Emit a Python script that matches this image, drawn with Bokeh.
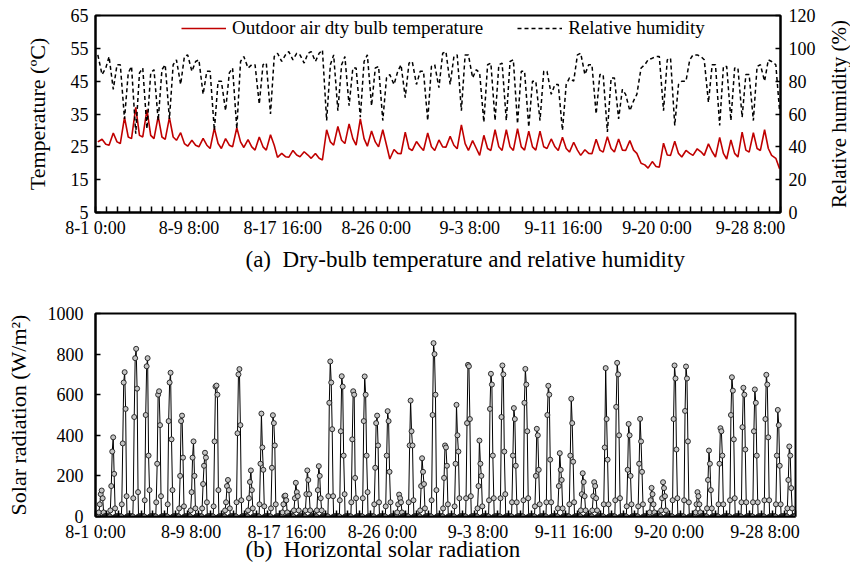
import math
from bokeh.plotting import figure
from bokeh.models import Range1d, LinearAxis, FixedTicker, Legend, LegendItem, Title
from bokeh.core.properties import value
from bokeh.layouts import row
from bokeh.embed import file_html
from bokeh.resources import INLINE

FONT = "Liberation Serif"

# ---------------- data ----------------
N_DAYS = 61
TICK_HOURS = [0, 200, 400, 600, 800, 1000, 1200, 1400]
TICK_LABELS = ["8-1 0:00", "8-9 8:00", "8-17 16:00", "8-26 0:00",
               "9-3 8:00", "9-11 16:00", "9-20 0:00", "9-28 8:00"]

# readings per day (hour of day) for temperature / RH
READ_HOURS = [5, 14, 22]
TEMP_05 = [26.5, 25.5, 26.0, 27.5, 28.0, 27.5, 27.3, 27.0, 25.2, 25.0,
           24.5, 24.5, 25.0, 24.8, 24.0, 24.0, 21.8, 21.8, 22.0, 21.5,
           21.0, 25.5, 26.0, 25.5, 25.2, 25.0, 21.3, 22.9, 23.9, 23.9,
           23.9, 24.9, 24.4, 23.9, 22.4, 23.9, 23.9, 23.9, 24.0, 24.0,
           24.5, 23.9, 23.4, 22.4, 22.9, 23.4, 23.4, 23.9, 23.0, 18.5,
           18.8, 22.4, 21.9, 22.4, 22.4, 21.9, 21.3, 21.9, 23.4, 23.9,
           22.4]
TEMP_14 = [27.3, 29.2, 34.0, 37.0, 36.3, 34.3, 33.9, 29.3, 27.0, 27.6,
           30.7, 27.5, 30.8, 27.2, 28.0, 28.7, 23.0, 23.9, 23.5, 23.0,
           30.2, 31.2, 32.0, 33.5, 29.8, 30.2, 24.2, 29.5, 26.6, 29.2,
           27.1, 28.2, 31.7, 26.9, 28.5, 30.2, 30.2, 30.5, 29.8, 29.8,
           27.4, 27.9, 26.4, 24.1, 27.3, 28.1, 27.4, 26.9, 20.0, 20.5,
           26.1, 26.7, 23.9, 24.4, 25.9, 27.9, 27.1, 29.5, 29.3, 30.2,
           21.5]
TEMP_22 = [25.8, 26.5, 28.0, 28.5, 28.5, 28.0, 28.0, 26.0, 25.5, 25.5,
           26.0, 25.5, 26.5, 25.0, 25.0, 25.5, 22.0, 22.5, 22.5, 21.5,
           26.5, 27.0, 27.5, 27.5, 26.5, 25.5, 23.0, 24.5, 25.0, 25.0,
           25.0, 25.5, 26.0, 24.5, 24.5, 25.0, 25.0, 25.0, 25.0, 25.0,
           25.0, 24.5, 24.0, 23.0, 24.0, 24.5, 24.0, 24.0, 19.5, 19.0,
           22.5, 23.0, 23.0, 23.5, 23.5, 23.0, 23.0, 24.0, 24.5, 24.5,
           18.3]
RH_05 = [96, 95, 90, 89, 88, 87, 90, 93, 96, 93,
         86, 80, 88, 95, 90, 91, 97, 98, 96, 98,
         99, 96, 95, 88, 96, 89, 84, 90, 92, 86,
         90, 98, 96, 96, 85, 91, 91, 93, 86, 80,
         86, 78, 82, 97, 90, 84, 82, 72, 72, 93,
         95, 94, 80, 96, 93, 90, 89, 88, 84, 90,
         92]
RH_14 = [84, 75, 57, 48, 51, 56, 57, 78, 86, 72,
         50, 62, 51, 88, 66, 60, 92, 93, 91, 92,
         56, 62, 65, 58, 65, 56, 78, 70, 78, 56,
         76, 78, 62, 82, 55, 56, 56, 54, 52, 56,
         72, 50, 80, 84, 60, 49, 57, 62, 88, 94,
         62, 53, 80, 96, 67, 53, 56, 58, 56, 80,
         90]
RH_22 = [88, 90, 85, 85, 85, 87, 90, 95, 92, 86,
         80, 85, 92, 90, 90, 95, 96, 97, 97, 97,
         90, 90, 88, 92, 88, 82, 86, 91, 86, 89,
         97, 95, 96, 87, 90, 90, 92, 86, 80, 86,
         78, 78, 96, 90, 84, 82, 75, 68, 90, 95,
         93, 78, 93, 95, 90, 89, 88, 84, 89, 93,
         62]

# horizontal solar radiation (W/m2): night hours are zero, daytime readings below
NIGHT_HOURS = [0, 1, 2, 3, 4, 5, 6, 18, 19, 20, 21, 22, 23]
SOLAR_HOURS = [7, 9, 11, 13, 15, 17]
SOLAR_07 = [20, 30, 60, 90, 80, 70, 60, 40, 30, 40,
            50, 30, 70, 30, 60, 40, 20, 30, 30, 30,
            100, 80, 70, 90, 60, 50, 20, 70, 30, 80,
            40, 50, 90, 40, 80, 90, 70, 80, 50, 70,
            40, 60, 30, 30, 60, 80, 50, 50, 20, 30,
            80, 80, 20, 40, 60, 80, 70, 70, 80, 60,
            40]
SOLAR_09 = [60, 150, 360, 490, 500, 260, 470, 200, 120, 160,
            370, 70, 410, 90, 260, 240, 60, 90, 110, 130,
            560, 420, 380, 470, 240, 300, 60, 350, 150, 500,
            190, 260, 460, 150, 530, 490, 300, 560, 200, 500,
            150, 300, 110, 100, 340, 540, 230, 260, 80, 90,
            480, 520, 60, 180, 260, 500, 440, 420, 480, 300,
            180]
SOLAR_11 = [110, 320, 660, 780, 740, 600, 660, 470, 290, 250,
            640, 150, 700, 170, 507, 499, 100, 166, 227, 248,
            764, 691, 617, 690, 460, 519, 108, 571, 287, 854,
            350, 550, 747, 374, 703, 744, 534, 727, 432, 644,
            312, 580, 213, 169, 731, 757, 456, 481, 141, 169,
            744, 739, 120, 325, 435, 686, 634, 626, 698, 525,
            345]
SOLAR_13 = [128, 390, 711, 826, 780, 617, 708, 497, 370, 314,
            645, 180, 726, 227, 340, 460, 103, 120, 180, 200,
            660, 640, 600, 600, 497, 470, 90, 420, 220, 800,
            340, 400, 740, 260, 650, 700, 480, 650, 400, 600,
            230, 460, 170, 150, 480, 700, 400, 370, 110, 140,
            680, 680, 100, 260, 420, 620, 600, 560, 650, 450,
            300]
SOLAR_15 = [90, 210, 530, 630, 300, 450, 380, 290, 200, 290,
            600, 130, 450, 130, 230, 350, 80, 100, 110, 90,
            430, 300, 190, 300, 350, 220, 70, 350, 160, 600,
            250, 320, 480, 200, 300, 320, 250, 420, 230, 280,
            180, 270, 100, 90, 280, 400, 200, 220, 60, 100,
            330, 370, 60, 130, 300, 380, 330, 300, 390, 250,
            140]
SOLAR_17 = [20, 40, 100, 120, 130, 100, 130, 50, 40, 70,
            130, 40, 80, 40, 50, 60, 20, 30, 30, 30,
            100, 110, 90, 120, 70, 70, 20, 80, 40, 130,
            60, 90, 100, 50, 90, 110, 70, 90, 60, 70,
            40, 70, 30, 30, 60, 90, 60, 60, 20, 30,
            90, 70, 20, 40, 60, 90, 70, 70, 80, 60,
            40]

RH_AXIS_TITLE = "Relative humidity (%)"

# ---------------- assemble hourly series ----------------
t_x, t_y, h_y = [], [], []
for d in range(N_DAYS):
    for h, tv, hv in zip(READ_HOURS, (TEMP_05[d], TEMP_14[d], TEMP_22[d]),
                         (RH_05[d], RH_14[d], RH_22[d])):
        t_x.append(d * 24 + h)
        t_y.append(tv)
        h_y.append(hv)

solar_cols = dict(zip(SOLAR_HOURS, [SOLAR_07, SOLAR_09, SOLAR_11, SOLAR_13, SOLAR_15, SOLAR_17]))
s_x, s_y = [], []
for d in range(N_DAYS):
    for h in range(24):
        if h in solar_cols:
            s_x.append(d * 24 + h)
            s_y.append(solar_cols[h][d])
        elif h in NIGHT_HOURS:
            s_x.append(d * 24 + h)
            s_y.append(0)

X_END = N_DAYS * 24
DAY_TICKS = list(range(0, X_END + 1, 24))


def style_x(ax):
    ax.ticker = FixedTicker(ticks=TICK_HOURS, minor_ticks=DAY_TICKS)
    ax.major_label_overrides = {t: l for t, l in zip(TICK_HOURS, TICK_LABELS)}
    ax.major_tick_in = 0
    ax.major_tick_out = 0
    ax.minor_tick_in = 6
    ax.minor_tick_out = 0
    ax.minor_tick_line_color = "black"
    ax.minor_tick_line_width = 1.5
    ax.axis_line_width = 2
    ax.axis_line_color = "black"
    ax.major_label_text_font = FONT
    ax.major_label_text_font_size = "18px"
    ax.major_label_text_color = "black"
    ax.major_label_standoff = 5


def style_y(ax, standoff, label_standoff):
    ax.major_tick_in = 5
    ax.major_tick_out = 0
    ax.minor_tick_in = 0
    ax.minor_tick_out = 0
    ax.major_tick_line_width = 1.5
    ax.axis_line_width = 2
    ax.axis_line_color = "black"
    ax.major_label_text_font = FONT
    ax.major_label_text_font_size = "18px"
    ax.major_label_text_color = "black"
    ax.major_label_standoff = standoff
    ax.axis_label_text_font = FONT
    ax.axis_label_text_font_size = "22px"
    ax.axis_label_text_font_style = "normal"
    ax.axis_label_text_color = "black"
    ax.axis_label_standoff = label_standoff


# ---------------- panel (a) ----------------
p1 = figure(width=820, height=287, x_range=Range1d(0, X_END), y_range=Range1d(5, 65),
            output_backend="svg", toolbar_location=None, title=None,
            min_border_left=95, min_border_right=40, min_border_top=15, min_border_bottom=75)
p1.extra_y_ranges = {"rh": Range1d(0, 120)}
p1.xgrid.visible = False
p1.ygrid.visible = False
p1.outline_line_color = "black"
p1.outline_line_width = 2

r_t = p1.line(t_x, t_y, color="#C00000", line_width=1.6)
r_h = p1.line(t_x, h_y, color="black", line_width=1.5, line_dash="4 3", y_range_name="rh")

style_x(p1.xaxis[0])
p1.yaxis[0].ticker = FixedTicker(ticks=[5, 15, 25, 35, 45, 55, 65])
p1.yaxis[0].axis_label = "Temperature (ºC)"
style_y(p1.yaxis[0], 7, 18)

rax = LinearAxis(y_range_name="rh",
                 ticker=FixedTicker(ticks=[0, 20, 40, 60, 80, 100, 120]))
style_y(rax, 8, 8)
p1.add_layout(rax, "right")

legend = Legend(items=[LegendItem(label="Outdoor air dty bulb temperature", renderers=[r_t]),
                       LegendItem(label="Relative humidity", renderers=[r_h])],
                orientation="horizontal", location=(86, 173),
                border_line_color=None, background_fill_alpha=0,
                padding=0, margin=0, spacing=34, glyph_width=45, glyph_height=20,
                label_standoff=6, label_text_font=FONT, label_text_font_size="19px",
                label_text_color="black", label_height=20)
p1.add_layout(legend)

p1.add_layout(Title(text="(a)\u00a0\u00a0Dry-bulb temperature and relative humidity", align="left",
                    offset=150, text_font=FONT, text_font_size="23px",
                    text_font_style="normal", text_color="black", standoff=8), "below")

# narrow strip holding the right axis title, reading bottom-to-top
strip = figure(width=30, height=287, x_range=Range1d(0, 30), y_range=Range1d(0, 1),
               output_backend="svg", toolbar_location=None, title=None,
               min_border_left=0, min_border_right=0, min_border_top=0, min_border_bottom=0)
strip.axis.visible = False
strip.xgrid.visible = False
strip.ygrid.visible = False
strip.outline_line_color = None
strip.text(x=[18], y=[0.5], text=[RH_AXIS_TITLE], angle=math.pi / 2,
           text_align="center", text_baseline="middle", text_font=value(FONT),
           text_font_size=value("21px"), text_color="black")

# ---------------- panel (b) ----------------
p2 = figure(width=850, height=288, x_range=Range1d(0, X_END), y_range=Range1d(0, 1000),
            output_backend="svg", toolbar_location=None, title=None,
            min_border_left=95, min_border_right=55, min_border_top=26, min_border_bottom=59)
p2.xgrid.visible = False
p2.ygrid.visible = False
p2.outline_line_color = "black"
p2.outline_line_width = 2

p2.line(s_x, s_y, color="black", line_width=1)
p2.scatter(s_x, s_y, marker="circle", size=5, fill_color="#c4c4c4",
           line_color="#1a1a1a", line_width=0.9)

style_x(p2.xaxis[0])
p2.yaxis[0].ticker = FixedTicker(ticks=[0, 200, 400, 600, 800, 1000])
p2.yaxis[0].axis_label = "Solar radiation (W/m²)"
style_y(p2.yaxis[0], 12, 14)

p2.add_layout(Title(text="(b)\u00a0\u00a0Horizontal solar radiation", align="left",
                    offset=150, text_font=FONT, text_font_size="23px",
                    text_font_style="normal", text_color="black", standoff=-19), "below")

open("out.html", "w").write(file_html([row(p1, strip, spacing=0), p2], INLINE))
